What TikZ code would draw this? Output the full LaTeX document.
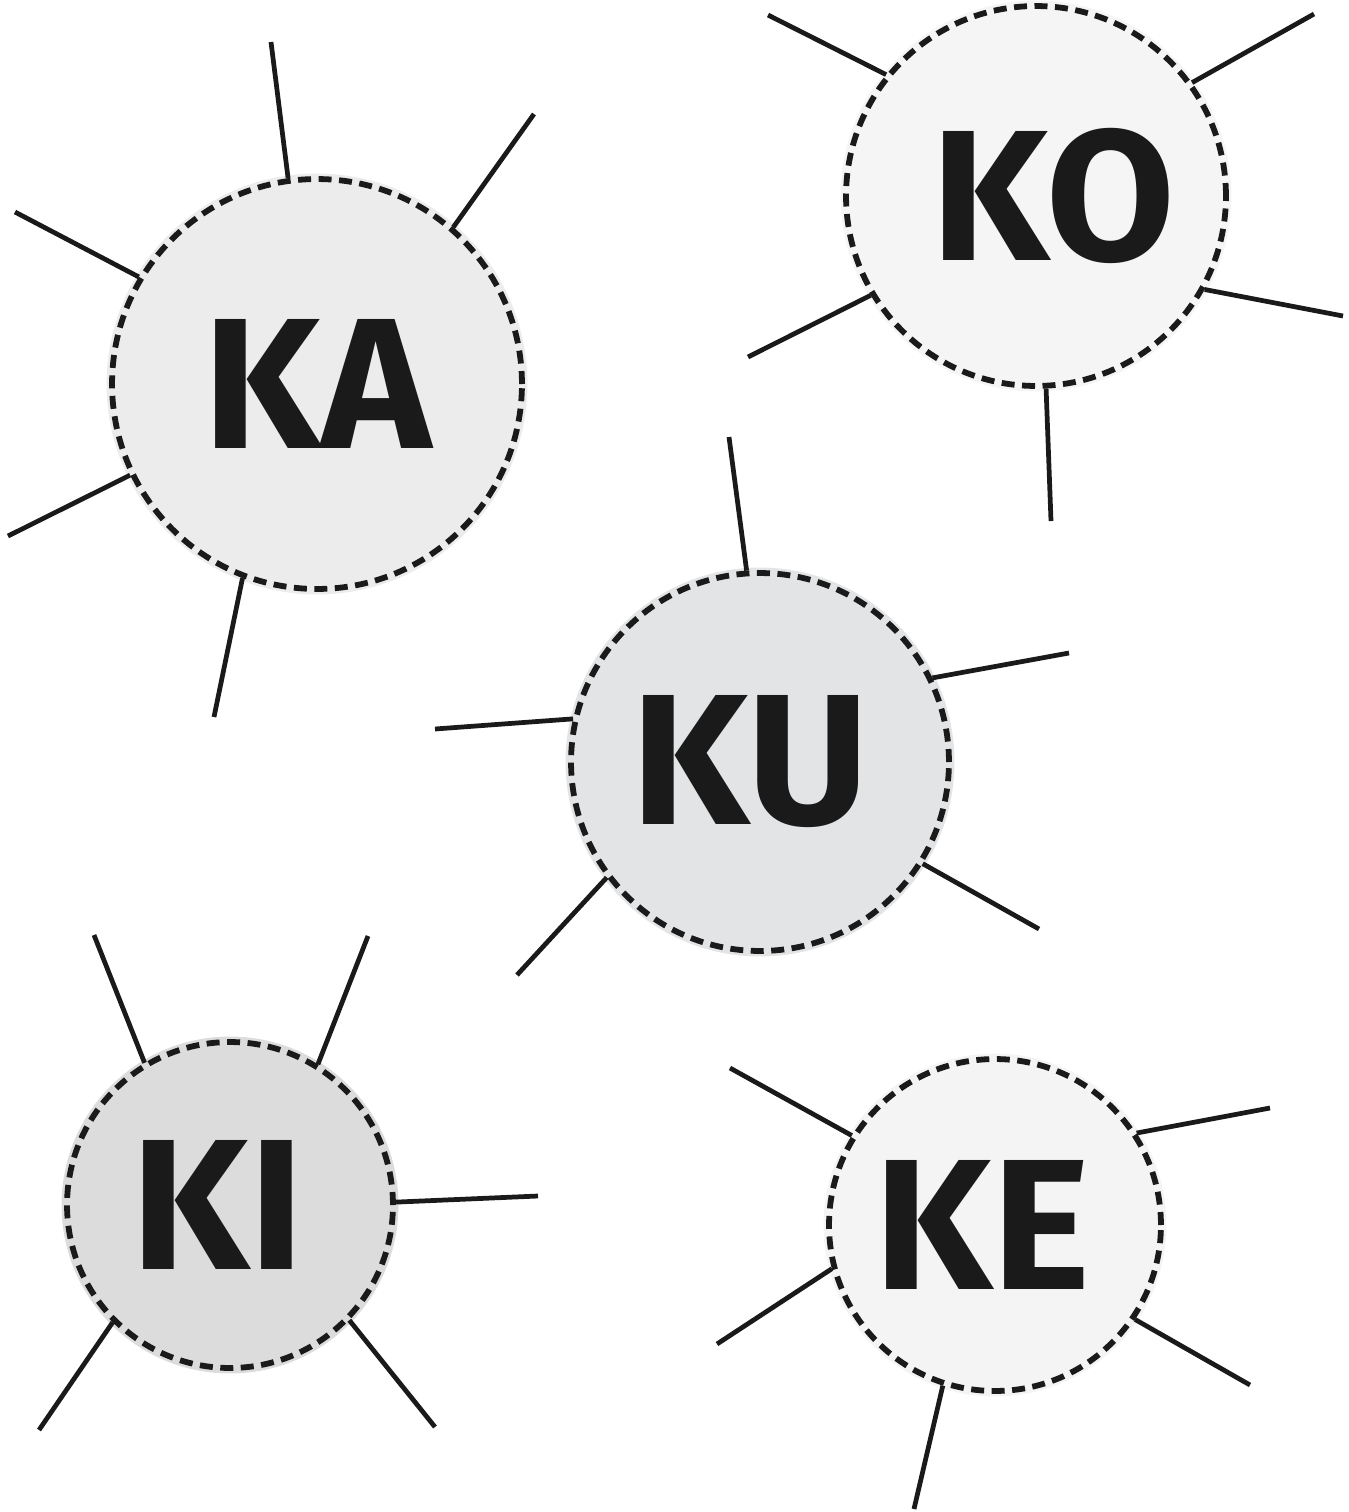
\documentclass[tikz,border=0pt]{standalone}
\usepackage{fontspec}
\setmainfont{Fira Sans}
\usepackage{tikz}
\usetikzlibrary{positioning, calc}
\usepackage{xcolor}
\definecolor{inkdark}{RGB}{26, 26, 26}
\definecolor{fillka}{RGB}{236, 236, 236}
\definecolor{fillko}{RGB}{245, 245, 245}
\definecolor{fillku}{RGB}{227, 228, 230}
\definecolor{fillki}{RGB}{220, 220, 220}
\definecolor{fillke}{RGB}{244, 244, 244}

\begin{document}
\begin{tikzpicture}[
    x=0.02cm, y=-0.02cm,
    syll/.style={circle, draw=inkdark, line width=3.3pt, dash pattern=on 0.26cm off 0.15cm,
        fill=#1, preaction={draw=#1, solid, line width=0.22cm},
        text=inkdark, font=\fontsize{106}{110}\selectfont\bfseries, inner sep=0pt},
    ray/.style={draw=inkdark, line width=2.7pt}
]
\useasboundingbox (0,0) rectangle (1349,1512);

% KA
\node[syll=fillka, minimum size=8.2cm] (ka) at (317,384) {KA};
\foreach \a/\p in {98.6/{271,42}, 49.3/{534,114}, 149/{15,212}, 206.3/{8,536}, 249.4/{214,717}}
    \draw[ray] (ka.\a) -- (\p);

% KO
\node[syll=fillko, minimum size=7.6cm] (ko) at (1036,196) {\kern0.7cm KO};
\foreach \a/\p in {141/{768,15}, 36/{1314,14}, 331.6/{1343,316}, 211.4/{748,357}, 273/{1051,521}}
    \draw[ray] (ko.\a) -- (\p);

% KU
\node[syll=fillku, minimum size=7.56cm] (ku) at (760,762) {KU\kern0.4cm};
\foreach \a/\p in {94/{729,437}, 26.3/{1069,653}, 167.5/{435,729}, 217.9/{517,975}, 328.4/{1039,929}}
    \draw[ray] (ku.\a) -- (\p);

% KI
\node[syll=fillki, minimum size=6.52cm] (ki) at (230,1205) {KI\kern0.5cm};
\foreach \a/\p in {121.5/{94,935}, 58/{368,936}, 1/{538,1196}, 225/{39,1430}, 316/{435,1427}}
    \draw[ray] (ki.\a) -- (\p);

% KE
\node[syll=fillke, minimum size=6.64cm] (ke) at (995,1225) {KE\kern0.5cm};
\foreach \a/\p in {148.4/{730,1068}, 33.7/{1270,1108}, 195.5/{717,1344}, 326.5/{1250,1385}, 252.5/{914,1509}}
    \draw[ray] (ke.\a) -- (\p);

\end{tikzpicture}
\end{document}
